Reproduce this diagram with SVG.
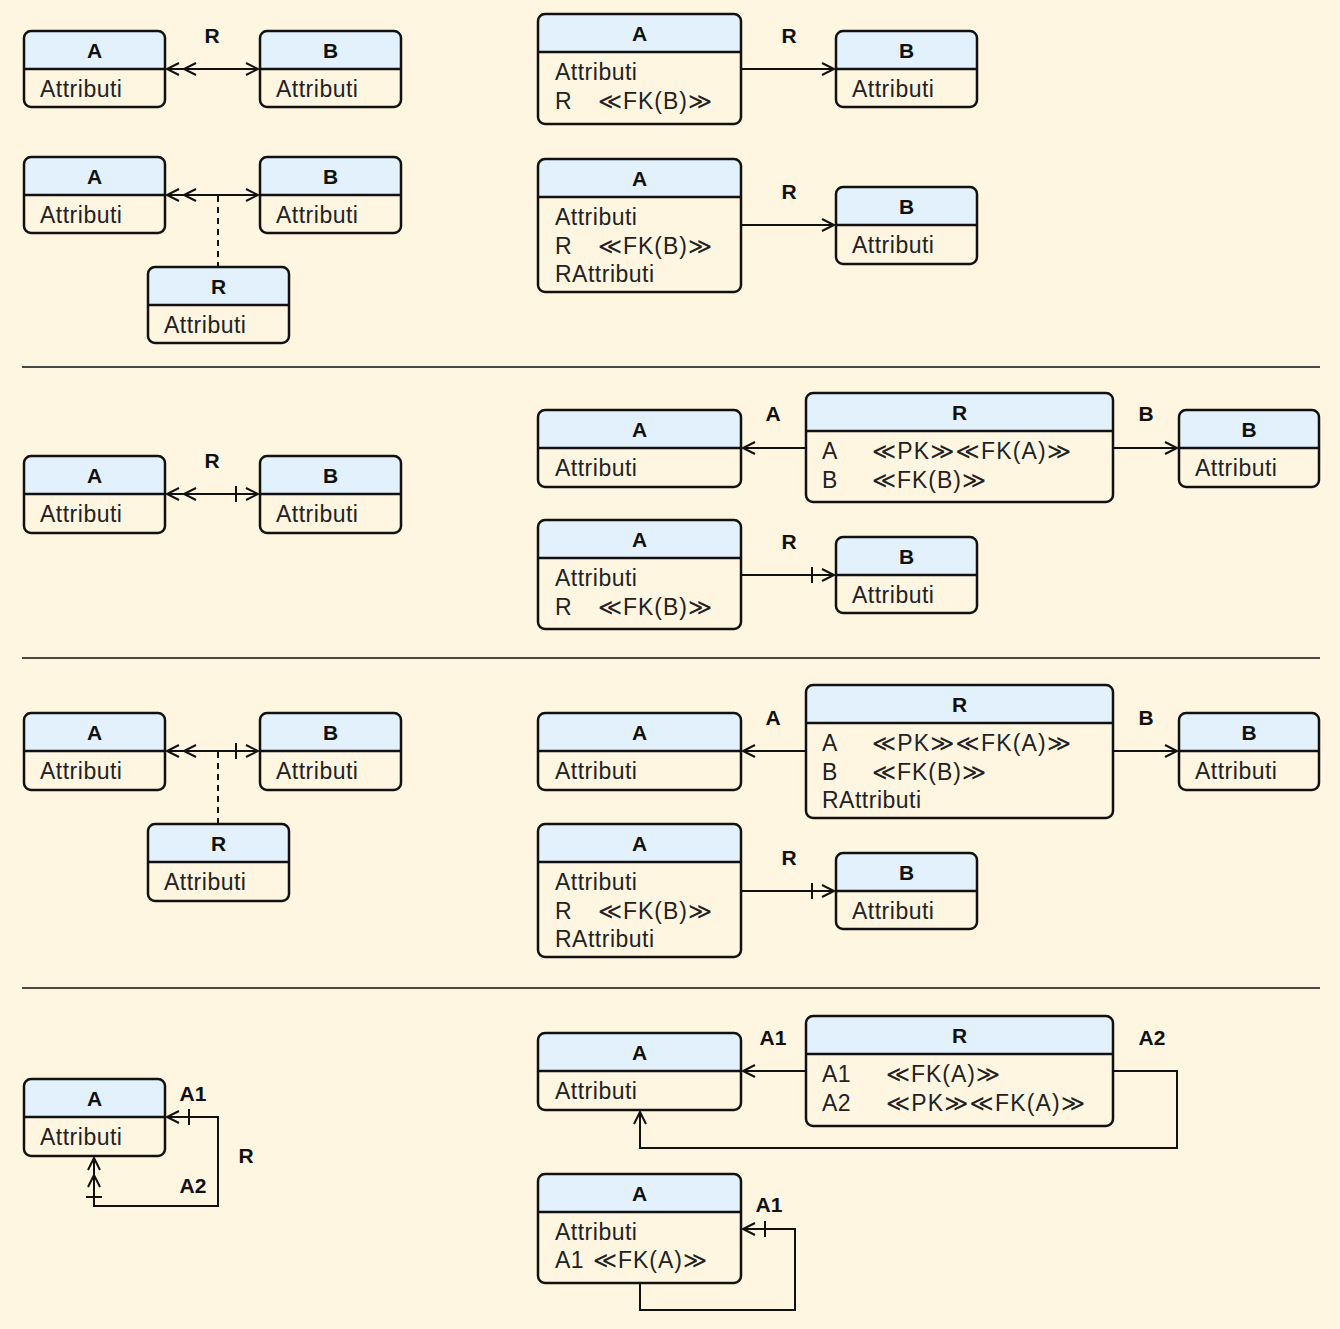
<svg xmlns="http://www.w3.org/2000/svg" width="1340" height="1329" viewBox="0 0 1340 1329">
<style>
.bgc{fill:#FFF6E2}
.bx{fill:#FFF6E2}
.hd{fill:#E3F1FC}
.ol{fill:none;stroke:#111;stroke-width:2.5}
.dv{stroke:#111;stroke-width:2.5}
.t{font-family:"Liberation Sans","DejaVu Sans",sans-serif;font-size:23px;letter-spacing:0.5px;fill:#222}
.s{letter-spacing:0}
.h{font-family:"Liberation Sans",sans-serif;font-size:21px;font-weight:bold;fill:#111;text-anchor:middle}
.lb{font-family:"Liberation Sans",sans-serif;font-size:21px;font-weight:bold;fill:#111;text-anchor:middle}
.c{fill:none;stroke:#111;stroke-width:2}
.d{fill:none;stroke:#111;stroke-width:2;stroke-dasharray:6 5}
.sep{stroke:#111;stroke-width:1.5}
.mk{fill:none;stroke:#111;stroke-width:2}
</style>
<defs>
<marker id="m1" markerUnits="userSpaceOnUse" orient="auto-start-reverse" overflow="visible" refX="0" refY="0" markerWidth="1" markerHeight="1"><path class="mk" d="M-12,-6 L0,0 L-12,6"/></marker>
<marker id="m2" markerUnits="userSpaceOnUse" orient="auto-start-reverse" overflow="visible" refX="0" refY="0" markerWidth="1" markerHeight="1"><path class="mk" d="M-12,-6 L0,0 L-12,6 M-29,-6 L-17,0 L-29,6"/></marker>
<marker id="m1b" markerUnits="userSpaceOnUse" orient="auto-start-reverse" overflow="visible" refX="0" refY="0" markerWidth="1" markerHeight="1"><path class="mk" d="M-12,-6 L0,0 L-12,6 M-22,-8 L-22,8"/></marker>
<marker id="m2b" markerUnits="userSpaceOnUse" orient="auto-start-reverse" overflow="visible" refX="0" refY="0" markerWidth="1" markerHeight="1"><path class="mk" d="M-12,-6 L0,0 L-12,6 M-29,-6 L-17,0 L-29,6 M-39,-8 L-39,8"/></marker>
</defs>
<rect class="bgc" x="0" y="0" width="1340" height="1329"/>

<g id="separators">
<path class="sep" d="M22,367 H1320 M22,658 H1320 M22,988 H1320"/>
</g>

<g id="connectors">
<path class="c" d="M167,69 H258" marker-start="url(#m2)" marker-end="url(#m1)"/>
<path class="c" d="M167,195 H258" marker-start="url(#m2)" marker-end="url(#m1)"/>
<path class="d" d="M218,196 V266"/>
<path class="c" d="M742,69 H834" marker-end="url(#m1)"/>
<path class="c" d="M742,225 H834" marker-end="url(#m1)"/>
<path class="c" d="M167,494 H258" marker-start="url(#m2)" marker-end="url(#m1b)"/>
<path class="c" d="M805,448 H743" marker-end="url(#m1)"/>
<path class="c" d="M1114,448 H1177" marker-end="url(#m1)"/>
<path class="c" d="M742,575 H834" marker-end="url(#m1b)"/>
<path class="c" d="M167,751 H258" marker-start="url(#m2)" marker-end="url(#m1b)"/>
<path class="d" d="M218,752 V823"/>
<path class="c" d="M805,751 H743" marker-end="url(#m1)"/>
<path class="c" d="M1114,751 H1177" marker-end="url(#m1)"/>
<path class="c" d="M742,891 H834" marker-end="url(#m1b)"/>
<path class="c" d="M94,1158 V1206 H218 V1117 H167" marker-start="url(#m2b)" marker-end="url(#m1b)"/>
<path class="c" d="M805,1071 H743" marker-end="url(#m1)"/>
<path class="c" d="M1114,1071 H1177 V1148 H640 V1112" marker-end="url(#m1)"/>
<path class="c" d="M640,1284 V1310 H795 V1229 H743" marker-end="url(#m1b)"/>
</g>

<g id="labels">
<text class="lb" x="212" y="43">R</text>
<text class="lb" x="789" y="43">R</text>
<text class="lb" x="789" y="199">R</text>
<text class="lb" x="212" y="468">R</text>
<text class="lb" x="773" y="421">A</text>
<text class="lb" x="1146" y="421">B</text>
<text class="lb" x="789" y="549">R</text>
<text class="lb" x="773" y="725">A</text>
<text class="lb" x="1146" y="725">B</text>
<text class="lb" x="789" y="865">R</text>
<text class="lb" x="193" y="1101">A1</text>
<text class="lb" x="246" y="1163">R</text>
<text class="lb" x="193" y="1193">A2</text>
<text class="lb" x="773" y="1045">A1</text>
<text class="lb" x="1152" y="1045">A2</text>
<text class="lb" x="769" y="1212">A1</text>
</g>

<g id="n1A"><rect class="bx" x="24" y="31" width="141" height="76" rx="7"/><path class="hd" d="M24,69 V38 Q24,31 31,31 H158 Q165,31 165,38 V69 Z"/><line class="dv" x1="24" y1="69" x2="165" y2="69"/><rect class="ol" x="24" y="31" width="141" height="76" rx="7"/><text class="h" x="94.5" y="58">A</text><text class="t" x="40" y="97">Attributi</text></g>
<g id="n1B"><rect class="bx" x="260" y="31" width="141" height="76" rx="7"/><path class="hd" d="M260,69 V38 Q260,31 267,31 H394 Q401,31 401,38 V69 Z"/><line class="dv" x1="260" y1="69" x2="401" y2="69"/><rect class="ol" x="260" y="31" width="141" height="76" rx="7"/><text class="h" x="330.5" y="58">B</text><text class="t" x="276" y="97">Attributi</text></g>

<g id="n2A"><rect class="bx" x="24" y="157" width="141" height="76" rx="7"/><path class="hd" d="M24,195 V164 Q24,157 31,157 H158 Q165,157 165,164 V195 Z"/><line class="dv" x1="24" y1="195" x2="165" y2="195"/><rect class="ol" x="24" y="157" width="141" height="76" rx="7"/><text class="h" x="94.5" y="184">A</text><text class="t" x="40" y="223">Attributi</text></g>
<g id="n2B"><rect class="bx" x="260" y="157" width="141" height="76" rx="7"/><path class="hd" d="M260,195 V164 Q260,157 267,157 H394 Q401,157 401,164 V195 Z"/><line class="dv" x1="260" y1="195" x2="401" y2="195"/><rect class="ol" x="260" y="157" width="141" height="76" rx="7"/><text class="h" x="330.5" y="184">B</text><text class="t" x="276" y="223">Attributi</text></g>
<g id="n2R"><rect class="bx" x="148" y="267" width="141" height="76" rx="7"/><path class="hd" d="M148,305 V274 Q148,267 155,267 H282 Q289,267 289,274 V305 Z"/><line class="dv" x1="148" y1="305" x2="289" y2="305"/><rect class="ol" x="148" y="267" width="141" height="76" rx="7"/><text class="h" x="218.5" y="294">R</text><text class="t" x="164" y="333">Attributi</text></g>

<g id="n3A"><rect class="bx" x="538" y="14" width="203" height="110" rx="7"/><path class="hd" d="M538,52 V21 Q538,14 545,14 H734 Q741,14 741,21 V52 Z"/><line class="dv" x1="538" y1="52" x2="741" y2="52"/><rect class="ol" x="538" y="14" width="203" height="110" rx="7"/><text class="h" x="639.5" y="41">A</text><text class="t" x="555" y="80">Attributi</text><text class="t" x="555" y="109">R<tspan class="s" x="598" textLength="114" lengthAdjust="spacing">≪FK(B)≫</tspan></text></g>
<g id="n3B"><rect class="bx" x="836" y="31" width="141" height="76" rx="7"/><path class="hd" d="M836,69 V38 Q836,31 843,31 H970 Q977,31 977,38 V69 Z"/><line class="dv" x1="836" y1="69" x2="977" y2="69"/><rect class="ol" x="836" y="31" width="141" height="76" rx="7"/><text class="h" x="906.5" y="58">B</text><text class="t" x="852" y="97">Attributi</text></g>

<g id="n4A"><rect class="bx" x="538" y="159" width="203" height="133" rx="7"/><path class="hd" d="M538,197 V166 Q538,159 545,159 H734 Q741,159 741,166 V197 Z"/><line class="dv" x1="538" y1="197" x2="741" y2="197"/><rect class="ol" x="538" y="159" width="203" height="133" rx="7"/><text class="h" x="639.5" y="186">A</text><text class="t" x="555" y="225">Attributi</text><text class="t" x="555" y="254">R<tspan class="s" x="598" textLength="114" lengthAdjust="spacing">≪FK(B)≫</tspan></text><text class="t" x="555" y="282">RAttributi</text></g>
<g id="n4B"><rect class="bx" x="836" y="187" width="141" height="77" rx="7"/><path class="hd" d="M836,225 V194 Q836,187 843,187 H970 Q977,187 977,194 V225 Z"/><line class="dv" x1="836" y1="225" x2="977" y2="225"/><rect class="ol" x="836" y="187" width="141" height="77" rx="7"/><text class="h" x="906.5" y="214">B</text><text class="t" x="852" y="253">Attributi</text></g>

<g id="n5A"><rect class="bx" x="24" y="456" width="141" height="77" rx="7"/><path class="hd" d="M24,494 V463 Q24,456 31,456 H158 Q165,456 165,463 V494 Z"/><line class="dv" x1="24" y1="494" x2="165" y2="494"/><rect class="ol" x="24" y="456" width="141" height="77" rx="7"/><text class="h" x="94.5" y="483">A</text><text class="t" x="40" y="522">Attributi</text></g>
<g id="n5B"><rect class="bx" x="260" y="456" width="141" height="77" rx="7"/><path class="hd" d="M260,494 V463 Q260,456 267,456 H394 Q401,456 401,463 V494 Z"/><line class="dv" x1="260" y1="494" x2="401" y2="494"/><rect class="ol" x="260" y="456" width="141" height="77" rx="7"/><text class="h" x="330.5" y="483">B</text><text class="t" x="276" y="522">Attributi</text></g>

<g id="n6A"><rect class="bx" x="538" y="410" width="203" height="77" rx="7"/><path class="hd" d="M538,448 V417 Q538,410 545,410 H734 Q741,410 741,417 V448 Z"/><line class="dv" x1="538" y1="448" x2="741" y2="448"/><rect class="ol" x="538" y="410" width="203" height="77" rx="7"/><text class="h" x="639.5" y="437">A</text><text class="t" x="555" y="476">Attributi</text></g>
<g id="n6R"><rect class="bx" x="806" y="393" width="307" height="109" rx="7"/><path class="hd" d="M806,431 V400 Q806,393 813,393 H1106 Q1113,393 1113,400 V431 Z"/><line class="dv" x1="806" y1="431" x2="1113" y2="431"/><rect class="ol" x="806" y="393" width="307" height="109" rx="7"/><text class="h" x="959.5" y="420">R</text><text class="t" x="822" y="459">A<tspan class="s" x="872" textLength="199" lengthAdjust="spacing">≪PK≫≪FK(A)≫</tspan></text><text class="t" x="822" y="488">B<tspan class="s" x="872" textLength="114" lengthAdjust="spacing">≪FK(B)≫</tspan></text></g>
<g id="n6B"><rect class="bx" x="1179" y="410" width="140" height="77" rx="7"/><path class="hd" d="M1179,448 V417 Q1179,410 1186,410 H1312 Q1319,410 1319,417 V448 Z"/><line class="dv" x1="1179" y1="448" x2="1319" y2="448"/><rect class="ol" x="1179" y="410" width="140" height="77" rx="7"/><text class="h" x="1249" y="437">B</text><text class="t" x="1195" y="476">Attributi</text></g>

<g id="n7A"><rect class="bx" x="538" y="520" width="203" height="109" rx="7"/><path class="hd" d="M538,558 V527 Q538,520 545,520 H734 Q741,520 741,527 V558 Z"/><line class="dv" x1="538" y1="558" x2="741" y2="558"/><rect class="ol" x="538" y="520" width="203" height="109" rx="7"/><text class="h" x="639.5" y="547">A</text><text class="t" x="555" y="586">Attributi</text><text class="t" x="555" y="615">R<tspan class="s" x="598" textLength="114" lengthAdjust="spacing">≪FK(B)≫</tspan></text></g>
<g id="n7B"><rect class="bx" x="836" y="537" width="141" height="76" rx="7"/><path class="hd" d="M836,575 V544 Q836,537 843,537 H970 Q977,537 977,544 V575 Z"/><line class="dv" x1="836" y1="575" x2="977" y2="575"/><rect class="ol" x="836" y="537" width="141" height="76" rx="7"/><text class="h" x="906.5" y="564">B</text><text class="t" x="852" y="603">Attributi</text></g>

<g id="n8A"><rect class="bx" x="24" y="713" width="141" height="77" rx="7"/><path class="hd" d="M24,751 V720 Q24,713 31,713 H158 Q165,713 165,720 V751 Z"/><line class="dv" x1="24" y1="751" x2="165" y2="751"/><rect class="ol" x="24" y="713" width="141" height="77" rx="7"/><text class="h" x="94.5" y="740">A</text><text class="t" x="40" y="779">Attributi</text></g>
<g id="n8B"><rect class="bx" x="260" y="713" width="141" height="77" rx="7"/><path class="hd" d="M260,751 V720 Q260,713 267,713 H394 Q401,713 401,720 V751 Z"/><line class="dv" x1="260" y1="751" x2="401" y2="751"/><rect class="ol" x="260" y="713" width="141" height="77" rx="7"/><text class="h" x="330.5" y="740">B</text><text class="t" x="276" y="779">Attributi</text></g>
<g id="n8R"><rect class="bx" x="148" y="824" width="141" height="77" rx="7"/><path class="hd" d="M148,862 V831 Q148,824 155,824 H282 Q289,824 289,831 V862 Z"/><line class="dv" x1="148" y1="862" x2="289" y2="862"/><rect class="ol" x="148" y="824" width="141" height="77" rx="7"/><text class="h" x="218.5" y="851">R</text><text class="t" x="164" y="890">Attributi</text></g>

<g id="n9A"><rect class="bx" x="538" y="713" width="203" height="77" rx="7"/><path class="hd" d="M538,751 V720 Q538,713 545,713 H734 Q741,713 741,720 V751 Z"/><line class="dv" x1="538" y1="751" x2="741" y2="751"/><rect class="ol" x="538" y="713" width="203" height="77" rx="7"/><text class="h" x="639.5" y="740">A</text><text class="t" x="555" y="779">Attributi</text></g>
<g id="n9R"><rect class="bx" x="806" y="685" width="307" height="133" rx="7"/><path class="hd" d="M806,723 V692 Q806,685 813,685 H1106 Q1113,685 1113,692 V723 Z"/><line class="dv" x1="806" y1="723" x2="1113" y2="723"/><rect class="ol" x="806" y="685" width="307" height="133" rx="7"/><text class="h" x="959.5" y="712">R</text><text class="t" x="822" y="751">A<tspan class="s" x="872" textLength="199" lengthAdjust="spacing">≪PK≫≪FK(A)≫</tspan></text><text class="t" x="822" y="780">B<tspan class="s" x="872" textLength="114" lengthAdjust="spacing">≪FK(B)≫</tspan></text><text class="t" x="822" y="808">RAttributi</text></g>
<g id="n9B"><rect class="bx" x="1179" y="713" width="140" height="77" rx="7"/><path class="hd" d="M1179,751 V720 Q1179,713 1186,713 H1312 Q1319,713 1319,720 V751 Z"/><line class="dv" x1="1179" y1="751" x2="1319" y2="751"/><rect class="ol" x="1179" y="713" width="140" height="77" rx="7"/><text class="h" x="1249" y="740">B</text><text class="t" x="1195" y="779">Attributi</text></g>

<g id="n10A"><rect class="bx" x="538" y="824" width="203" height="133" rx="7"/><path class="hd" d="M538,862 V831 Q538,824 545,824 H734 Q741,824 741,831 V862 Z"/><line class="dv" x1="538" y1="862" x2="741" y2="862"/><rect class="ol" x="538" y="824" width="203" height="133" rx="7"/><text class="h" x="639.5" y="851">A</text><text class="t" x="555" y="890">Attributi</text><text class="t" x="555" y="919">R<tspan class="s" x="598" textLength="114" lengthAdjust="spacing">≪FK(B)≫</tspan></text><text class="t" x="555" y="947">RAttributi</text></g>
<g id="n10B"><rect class="bx" x="836" y="853" width="141" height="76" rx="7"/><path class="hd" d="M836,891 V860 Q836,853 843,853 H970 Q977,853 977,860 V891 Z"/><line class="dv" x1="836" y1="891" x2="977" y2="891"/><rect class="ol" x="836" y="853" width="141" height="76" rx="7"/><text class="h" x="906.5" y="880">B</text><text class="t" x="852" y="919">Attributi</text></g>

<g id="n11A"><rect class="bx" x="24" y="1079" width="141" height="77" rx="7"/><path class="hd" d="M24,1117 V1086 Q24,1079 31,1079 H158 Q165,1079 165,1086 V1117 Z"/><line class="dv" x1="24" y1="1117" x2="165" y2="1117"/><rect class="ol" x="24" y="1079" width="141" height="77" rx="7"/><text class="h" x="94.5" y="1106">A</text><text class="t" x="40" y="1145">Attributi</text></g>

<g id="n12A"><rect class="bx" x="538" y="1033" width="203" height="77" rx="7"/><path class="hd" d="M538,1071 V1040 Q538,1033 545,1033 H734 Q741,1033 741,1040 V1071 Z"/><line class="dv" x1="538" y1="1071" x2="741" y2="1071"/><rect class="ol" x="538" y="1033" width="203" height="77" rx="7"/><text class="h" x="639.5" y="1060">A</text><text class="t" x="555" y="1099">Attributi</text></g>
<g id="n12R"><rect class="bx" x="806" y="1016" width="307" height="110" rx="7"/><path class="hd" d="M806,1054 V1023 Q806,1016 813,1016 H1106 Q1113,1016 1113,1023 V1054 Z"/><line class="dv" x1="806" y1="1054" x2="1113" y2="1054"/><rect class="ol" x="806" y="1016" width="307" height="110" rx="7"/><text class="h" x="959.5" y="1043">R</text><text class="t" x="822" y="1082">A1<tspan class="s" x="886" textLength="114" lengthAdjust="spacing">≪FK(A)≫</tspan></text><text class="t" x="822" y="1111">A2<tspan class="s" x="886" textLength="199" lengthAdjust="spacing">≪PK≫≪FK(A)≫</tspan></text></g>

<g id="n13A"><rect class="bx" x="538" y="1174" width="203" height="109" rx="7"/><path class="hd" d="M538,1212 V1181 Q538,1174 545,1174 H734 Q741,1174 741,1181 V1212 Z"/><line class="dv" x1="538" y1="1212" x2="741" y2="1212"/><rect class="ol" x="538" y="1174" width="203" height="109" rx="7"/><text class="h" x="639.5" y="1201">A</text><text class="t" x="555" y="1240">Attributi</text><text class="t" x="555" y="1268">A1<tspan class="s" x="593" textLength="114" lengthAdjust="spacing">≪FK(A)≫</tspan></text></g>
</svg>
